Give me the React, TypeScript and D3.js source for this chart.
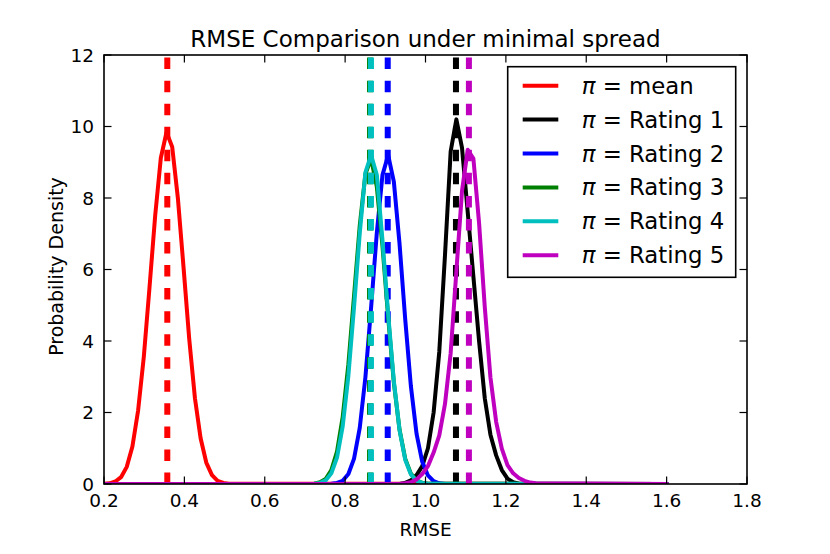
import React from 'react';
import * as d3 from 'd3';

// density curves: [rmse, density]
const densityMean: [number, number][] = [
  [0.2, 0.01], [0.2141, 0.02], [0.2283, 0.07], [0.2424, 0.19], [0.2566, 0.48],
  [0.2707, 1.05], [0.2848, 2.05], [0.299, 3.55], [0.3131, 5.48], [0.3273, 7.5],
  [0.3414, 9.12], [0.3556, 9.84], [0.3697, 9.43], [0.3838, 8.0], [0.398, 6.05],
  [0.4121, 4.05], [0.4263, 2.4], [0.4404, 1.28], [0.4545, 0.6], [0.4687, 0.25],
  [0.4828, 0.09], [0.497, 0.03], [0.5111, 0.01], [1.6, 0],
];

const densityRating1: [number, number][] = [
  [0.2, 0], [0.9354, 0], [0.9495, 0.03], [0.9636, 0.1], [0.9778, 0.25], [0.9919, 0.5],
  [1.0061, 1.0], [1.0202, 2.0], [1.0343, 3.7], [1.0485, 6.4], [1.0626, 9.3],
  [1.0768, 10.2], [1.0909, 9.4], [1.1051, 7.6], [1.1192, 5.8], [1.1333, 4.0],
  [1.1475, 2.4], [1.1616, 1.38], [1.1758, 0.8], [1.1899, 0.39], [1.204, 0.15],
  [1.2182, 0.05], [1.2323, 0.01], [1.6, 0],
];

const densityRating2: [number, number][] = [
  [0.2, 0], [0.7515, 0], [0.7657, 0.01], [0.7798, 0.03], [0.7939, 0.09], [0.8081, 0.28],
  [0.8222, 0.71], [0.8364, 1.57], [0.8505, 2.99], [0.8646, 4.93], [0.8788, 7.02],
  [0.8929, 8.64], [0.9071, 9.2], [0.9212, 8.46], [0.9354, 6.72], [0.9495, 4.61],
  [0.9636, 2.74], [0.9778, 1.4], [0.9919, 0.62], [1.0061, 0.24], [1.0202, 0.08],
  [1.0343, 0.02], [1.0485, 0], [1.6, 0],
];

const densityRating3: [number, number][] = [
  [0.2, 0], [0.7091, 0], [0.7232, 0.01], [0.7374, 0.05], [0.7515, 0.14], [0.7657, 0.39],
  [0.7798, 0.91], [0.7939, 1.87], [0.8081, 3.35], [0.8222, 5.27], [0.8364, 7.23],
  [0.8505, 8.67], [0.8646, 9.1], [0.8788, 8.32], [0.8929, 6.66], [0.9071, 4.66],
  [0.9212, 2.84], [0.9354, 1.52], [0.9495, 0.71], [0.9636, 0.29], [0.9778, 0.1],
  [0.9919, 0.03], [1.0061, 0.01], [1.6, 0],
];

const densityRating4: [number, number][] = [
  [0.2, 0], [0.7091, 0], [0.7232, 0.01], [0.7374, 0.03], [0.7515, 0.1], [0.7657, 0.3],
  [0.7798, 0.74], [0.7939, 1.61], [0.8081, 3.03], [0.8222, 4.95], [0.8364, 7.01],
  [0.8505, 8.72], [0.8646, 9.2], [0.8788, 8.65], [0.8929, 6.83], [0.9071, 4.76],
  [0.9212, 2.88], [0.9354, 1.51], [0.9495, 0.68], [0.9636, 0.27], [0.9778, 0.09],
  [0.9919, 0.03], [1.0061, 0.01], [1.6, 0],
];

const densityRating5: [number, number][] = [
  [0.2, 0], [0.9354, 0], [0.9495, 0.02], [0.9636, 0.05], [0.9778, 0.13], [0.9919, 0.28],
  [1.0061, 0.5], [1.0202, 0.88], [1.0343, 1.36], [1.0485, 2.24], [1.0626, 3.66],
  [1.0768, 5.95], [1.0909, 8.2], [1.1051, 9.35], [1.1192, 9.1], [1.1333, 7.3],
  [1.1475, 4.95], [1.1616, 2.98], [1.1758, 1.74], [1.1899, 0.99], [1.204, 0.53],
  [1.2182, 0.3], [1.2323, 0.17], [1.2465, 0.09], [1.2606, 0.04], [1.2747, 0.02], [1.6, 0],
];

// mean RMSE for each model (dashed verticals)
const meanRmse = [0.3575, 1.0758, 0.906, 0.862, 0.8643, 1.108];
const seriesLabels = ['mean', 'Rating 1', 'Rating 2', 'Rating 3', 'Rating 4', 'Rating 5'];
const seriesColors = ['#ff0000', '#000000', '#0000ff', '#008000', '#00bfbf', '#bf00bf'];
const densities = [densityMean, densityRating1, densityRating2, densityRating3, densityRating4, densityRating5];

const xTicks = [0.2, 0.4, 0.6, 0.8, 1.0, 1.2, 1.4, 1.6, 1.8];
const yTicks = [0, 2, 4, 6, 8, 10, 12];

const W = 830;
const H = 554;
const plot = { left: 104, right: 747, top: 55, bottom: 484 };
const font = '"DejaVu Sans", sans-serif';

export default function App() {
  const x = d3.scaleLinear().domain([0.2, 1.8]).range([plot.left, plot.right]);
  const y = d3.scaleLinear().domain([0, 12]).range([plot.bottom, plot.top]);

  const line = d3.line<[number, number]>()
    .x(d => x(d[0]))
    .y(d => y(d[1]));

  const tickLen = 7.5;
  const legend = { x: 507.7, y: 66.7, w: 228, h: 210.6, row0: 85.7, rowGap: 33.9 };

  return (
    <div style={{ position: 'absolute', left: 0, top: 0 }}>
      <svg width={W} height={H} style={{ display: 'block', background: '#fff' }} fontFamily={font}>
        <defs>
          <clipPath id="plot-clip">
            <rect x={plot.left} y={plot.top} width={plot.right - plot.left} height={plot.bottom - plot.top} />
          </clipPath>
        </defs>

        <rect x={0} y={0} width={W} height={H} fill="#fff" />

        {/* curves + mean lines, drawn in legend order */}
        <g clipPath="url(#plot-clip)">
          {densities.map((pts, i) => (
            <g key={i}>
              <path
                d={line(pts) || ''}
                fill="none"
                stroke={seriesColors[i]}
                strokeWidth={4}
                strokeLinejoin="round"
                strokeLinecap="square"
              />
              <line
                x1={x(meanRmse[i])}
                x2={x(meanRmse[i])}
                y1={y(0)}
                y2={y(12)}
                stroke={seriesColors[i]}
                strokeWidth={6}
                strokeDasharray="11.5 11.55"
              />
            </g>
          ))}
        </g>

        {/* ticks, inward on all four sides */}
        <g stroke="#000" strokeWidth={1.2}>
          {xTicks.map(t => (
            <g key={t}>
              <line x1={x(t)} x2={x(t)} y1={plot.bottom} y2={plot.bottom - tickLen} />
              <line x1={x(t)} x2={x(t)} y1={plot.top} y2={plot.top + tickLen} />
            </g>
          ))}
          {yTicks.map(t => (
            <g key={t}>
              <line x1={plot.left} x2={plot.left + tickLen} y1={y(t)} y2={y(t)} />
              <line x1={plot.right} x2={plot.right - tickLen} y1={y(t)} y2={y(t)} />
            </g>
          ))}
        </g>

        <rect
          x={plot.left}
          y={plot.top}
          width={plot.right - plot.left}
          height={plot.bottom - plot.top}
          fill="none"
          stroke="#000"
          strokeWidth={1.6}
        />

        {/* tick labels */}
        <g fontSize={18.5} fill="#000">
          {xTicks.map(t => (
            <text key={t} x={x(t)} y={507} textAnchor="middle">{t.toFixed(1)}</text>
          ))}
          {yTicks.map(t => (
            <text key={t} x={plot.left - 10} y={y(t) + 6.7} textAnchor="end">{t}</text>
          ))}
        </g>

        <text x={(plot.left + plot.right) / 2} y={536} textAnchor="middle" fontSize={18.5}>RMSE</text>
        <text
          transform={`translate(62.5, ${(plot.top + plot.bottom) / 2 - 3}) rotate(-90)`}
          textAnchor="middle"
          fontSize={19}
        >
          Probability Density
        </text>
        <text x={(plot.left + plot.right) / 2} y={46.7} textAnchor="middle" fontSize={23}>
          RMSE Comparison under minimal spread
        </text>

        {/* legend */}
        <g>
          <rect x={legend.x} y={legend.y} width={legend.w} height={legend.h} fill="#fff" stroke="#000" strokeWidth={1.6} />
          {seriesLabels.map((lab, i) => {
            const ry = legend.row0 + i * legend.rowGap;
            return (
              <g key={lab}>
                <line x1={522.7} x2={558.3} y1={ry} y2={ry} stroke={seriesColors[i]} strokeWidth={4} />
                <text x={581.7} y={ry + 8} fontSize={22.8}>
                  <tspan fontStyle="italic">π</tspan>
                  <tspan>{` = ${lab}`}</tspan>
                </text>
              </g>
            );
          })}
        </g>
      </svg>
    </div>
  );
}
